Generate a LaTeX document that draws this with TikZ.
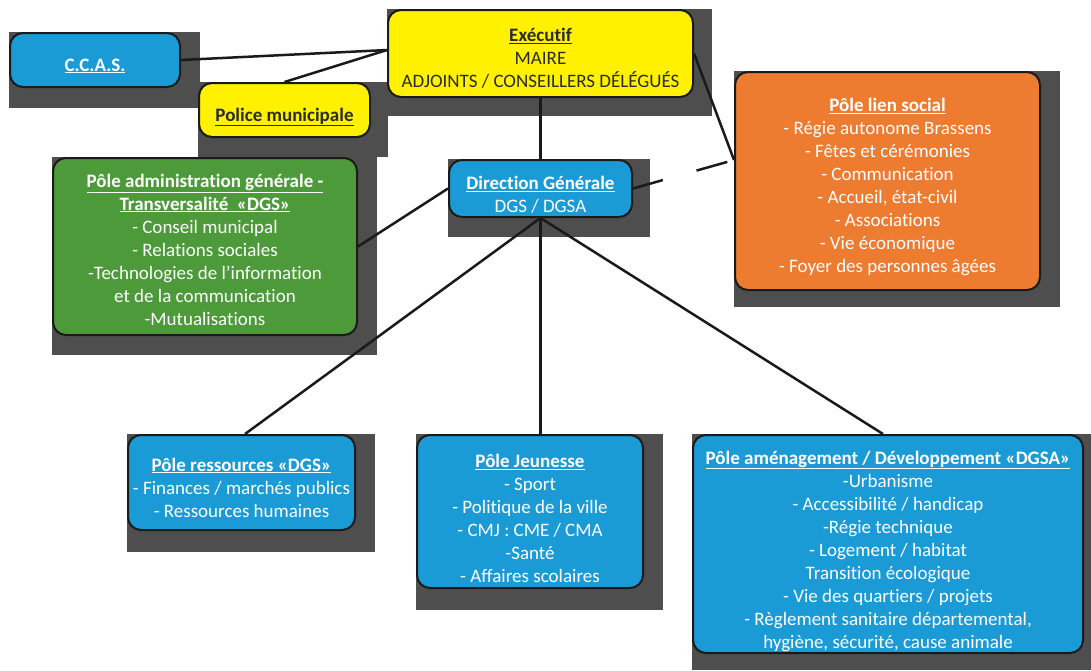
\documentclass[tikz,border=0pt]{standalone}
\usepackage{fontspec}
\setmainfont[Ligatures=NoCommon]{Carlito}
\usetikzlibrary{backgrounds}
\definecolor{cblue}{HTML}{1B9BD6}
\definecolor{cyellow}{HTML}{FFF100}
\definecolor{corange}{HTML}{ED7B30}
\definecolor{cgreen}{HTML}{4C9A3A}
\definecolor{cshadow}{HTML}{4E4E4E}
\definecolor{cborder}{HTML}{1A1A1A}
\definecolor{cdark}{HTML}{2B2B2B}
\pgfdeclarelayer{shad}
\pgfdeclarelayer{lines}
\pgfsetlayers{shad,lines,main}
\tikzset{
  box/.style={draw=cborder, line width=2pt, rounded corners=13pt, inner sep=0pt},
  bluebox/.style={box, fill=cblue},
  yellowbox/.style={box, fill=cyellow},
  orangebox/.style={box, fill=corange},
  greenbox/.style={box, fill=cgreen},
  txt/.style={inner sep=0pt, align=center, font=\fontsize{19}{23}\selectfont, text=white},
  darktxt/.style={txt, text=cdark},
  shadowfill/.style={fill=cshadow},
  conn/.style={draw=cborder, line width=2.5pt},
}
\newcommand{\ttl}[1]{\underline{\textbf{#1}}}
\begin{document}
\begin{tikzpicture}[x=1pt,y=-1pt]
\useasboundingbox (0,0) rectangle (1091,670);
% boxes
\node[bluebox, minimum width=170pt, minimum height=54pt] (ccas) at (95,60) {};
\node[txt] (ccas-t) at ([yshift=-6pt]ccas.center) {\ttl{C.C.A.S.}};
\node[yellowbox, minimum width=171pt, minimum height=54pt] (police) at (284.5,110) {};
\node[darktxt] (police-t) at ([yshift=-7pt]police.center) {\ttl{Police municipale}};
\node[yellowbox, minimum width=305pt, minimum height=87pt] (exec) at (540.5,53.5) {};
\node[darktxt] (exec-t) at ([yshift=-5pt]exec.center)
  {\ttl{Exécutif}\\MAIRE\\ADJOINTS / CONSEILLERS DÉLÉGUÉS};
\node[orangebox, minimum width=305pt, minimum height=218pt] (lien) at (887.5,181) {};
\node[txt] (lien-t) at ([yshift=-6pt]lien.center)
  {\ttl{Pôle lien social}\\- Régie autonome Brassens\\- Fêtes et cérémonies\\- Communication\\- Accueil, état-civil\\- Associations\\- Vie économique\\- Foyer des personnes âgées};
\node[greenbox, minimum width=304pt, minimum height=177pt] (admin) at (205,246.5) {};
\node[txt] (admin-t) at ([yshift=-3pt]admin.center)
  {\ttl{Pôle administration générale -}\\\ttl{Transversalité~~«DGS»}\\- Conseil municipal\\- Relations sociales\\-Technologies de l’information\\et de la communication\\-Mutualisations};
\node[bluebox, minimum width=183pt, minimum height=57pt] (dg) at (540.5,188.5) {};
\node[txt] (dg-t) at ([yshift=-6pt]dg.center) {\ttl{Direction Générale}\\DGS / DGSA};
\node[bluebox, minimum width=227pt, minimum height=95pt] (res) at (241.5,482.5) {};
\node[txt] (res-t) at ([yshift=-5pt]res.center)
  {\ttl{Pôle ressources «DGS»}\\- Finances / marchés publics\\- Ressources humaines};
\node[bluebox, minimum width=226pt, minimum height=153pt] (jeu) at (530,511.5) {};
\node[txt] (jeu-t) at ([yshift=-7pt]jeu.center)
  {\ttl{Pôle Jeunesse}\\- Sport\\- Politique de la ville\\- CMJ : CME / CMA\\-Santé\\- Affaires scolaires};
\node[bluebox, minimum width=390pt, minimum height=218pt] (amen) at (888,544) {};
\node[txt] (amen-t) at ([yshift=-7pt]amen.center)
  {\ttl{Pôle aménagement / Développement «DGSA»}\\-Urbanisme\\- Accessibilité / handicap\\-Régie technique\\-~Logement / habitat\\Transition écologique\\- Vie des quartiers / projets\\- Règlement sanitaire départemental,\\hygiène, sécurité, cause animale};
% shadows
\begin{pgfonlayer}{shad}
\fill[shadowfill] (ccas.north west) rectangle (200,108);
\fill[shadowfill] (police.north west) rectangle (388,157);
\fill[shadowfill] (exec.north west) rectangle (712,116);
\fill[shadowfill] (lien.north west) rectangle (1060,307);
\fill[shadowfill] (admin.north west) rectangle (377,355);
\fill[shadowfill] (dg.north west) rectangle (650,237);
\fill[shadowfill] (res.north west) rectangle (375,552);
\fill[shadowfill] (jeu.north west) rectangle (663,610);
\fill[shadowfill] (amen.north west) rectangle (1091,670);
\end{pgfonlayer}
% connectors
\begin{pgfonlayer}{lines}
\draw[conn] (ccas.east) -- ([yshift=3.5pt]exec.west);
\draw[conn] (police.north) -- ([yshift=3.5pt]exec.west);
\draw[conn] (exec.south) -- (dg.north);
\draw[conn] (exec.east) -- ([yshift=21pt]lien.west);
\draw[conn, dash pattern=on 31pt off 35pt on 32pt off 20pt] (dg.east) -- ([yshift=21pt]lien.west);
\draw[conn] (dg.west) -- (admin.east);
\draw[conn] (dg.south) -- ([xshift=3.5pt]res.north);
\draw[conn] (dg.south) -- (dg.south |- jeu.north);
\draw[conn] (dg.south) -- ([xshift=-5pt]amen.north);
\end{pgfonlayer}
\end{tikzpicture}
\end{document}
